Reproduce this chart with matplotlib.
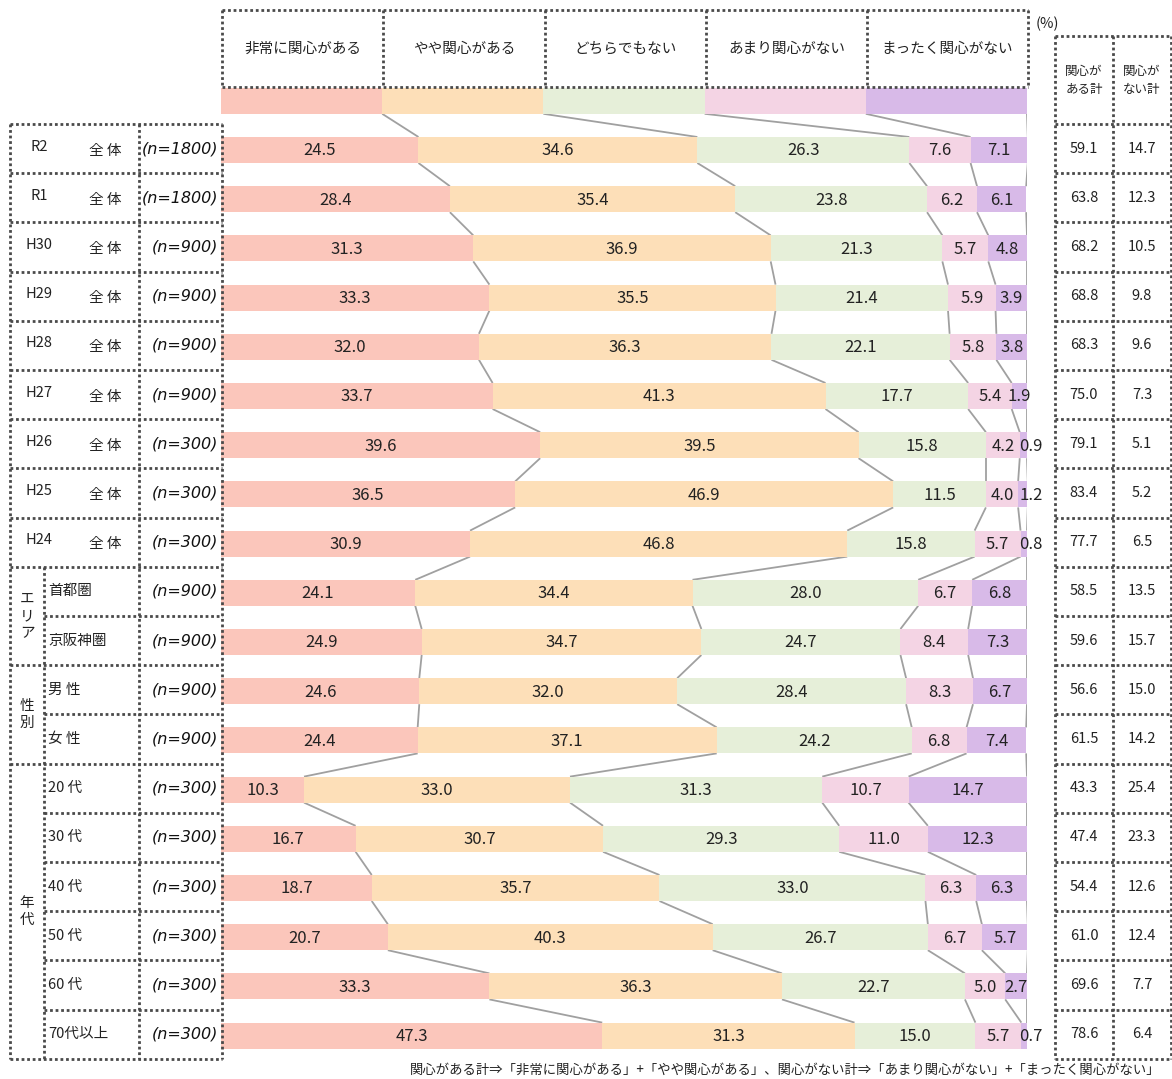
import matplotlib
matplotlib.use("Agg")
import matplotlib.pyplot as plt
import numpy as np

plt.rcParams['font.family'] = ['Noto Sans CJK JP', 'DejaVu Sans']

categories = ["非常に関心がある", "やや関心がある", "どちらでもない", "あまり関心がない", "まったく関心がない"]
colors = ["#FBC6BB", "#FDDFB8", "#E6EFD9", "#F4D4E4", "#D8BAE8"]

row_codes = ["R2", "R1", "H30", "H29", "H28", "H27", "H26", "H25", "H24",
             "首都圏", "京阪神圏", "男 性", "女 性",
             "20 代", "30 代", "40 代", "50 代", "60 代", "70代以上"]
row_n = ["(n=1800)", "(n=1800)", "(n=900)", "(n=900)", "(n=900)", "(n=900)", "(n=300)", "(n=300)", "(n=300)",
         "(n=900)", "(n=900)", "(n=900)", "(n=900)",
         "(n=300)", "(n=300)", "(n=300)", "(n=300)", "(n=300)", "(n=300)"]
groups = [("エ\nリ\nア", 9, 10), ("性\n別", 11, 12), ("年\n代", 13, 18)]

v_very = [24.5, 28.4, 31.3, 33.3, 32.0, 33.7, 39.6, 36.5, 30.9, 24.1, 24.9, 24.6, 24.4, 10.3, 16.7, 18.7, 20.7, 33.3, 47.3]
v_some = [34.6, 35.4, 36.9, 35.5, 36.3, 41.3, 39.5, 46.9, 46.8, 34.4, 34.7, 32.0, 37.1, 33.0, 30.7, 35.7, 40.3, 36.3, 31.3]
v_neith = [26.3, 23.8, 21.3, 21.4, 22.1, 17.7, 15.8, 11.5, 15.8, 28.0, 24.7, 28.4, 24.2, 31.3, 29.3, 33.0, 26.7, 22.7, 15.0]
v_little = [7.6, 6.2, 5.7, 5.9, 5.8, 5.4, 4.2, 4.0, 5.7, 6.7, 8.4, 8.3, 6.8, 10.7, 11.0, 6.3, 6.7, 5.0, 5.7]
v_none = [7.1, 6.1, 4.8, 3.9, 3.8, 1.9, 0.9, 1.2, 0.8, 6.8, 7.3, 6.7, 7.4, 14.7, 12.3, 6.3, 5.7, 2.7, 0.7]
tot_int = [59.1, 63.8, 68.2, 68.8, 68.3, 75.0, 79.1, 83.4, 77.7, 58.5, 59.6, 56.6, 61.5, 43.3, 47.4, 54.4, 61.0, 69.6, 78.6]
tot_not = [14.7, 12.3, 10.5, 9.8, 9.6, 7.3, 5.1, 5.2, 6.5, 13.5, 15.7, 15.0, 14.2, 25.4, 23.3, 12.6, 12.4, 7.7, 6.4]

W, H = 1172, 1079
fig = plt.figure(figsize=(W / 100, H / 100), dpi=100)

# geometry (pixels)
x0, x1 = 221, 1027
y_first, pitch = 150, 49.2
bar_h = 26 / pitch
n = len(row_codes)

ax = fig.add_axes([x0 / W, 0, (x1 - x0) / W, 1])
ax.set_xlim(0, 100)
ax.set_ylim((H - y_first) / pitch, -y_first / pitch)
ax.axis('off')

data = np.array([v_very, v_some, v_neith, v_little, v_none]).T
ys = np.arange(n)

# legend strip
ax.barh([-1] * 5, [20] * 5, left=[0, 20, 40, 60, 80], height=bar_h, color=colors, linewidth=0)

left = np.zeros(n)
for k in range(5):
    ax.barh(ys, data[:, k], left=left, height=bar_h, color=colors[k], linewidth=0)
    for i in range(n):
        v = data[i, k]
        xt = left[i] + v / 2 if v >= 1.5 else left[i] + v + 0.45
        ax.text(xt, ys[i] + 0.02, f"{v:.1f}", ha='center', va='center',
                fontsize=12, color='#222222')
    left = left + data[:, k]

# connector lines
cum = np.cumsum(data, axis=1)
cum_all = np.vstack([np.array([20, 40, 60, 80, 100]), cum])
y_all = np.concatenate([[-1], ys])
for i in range(len(y_all) - 1):
    for k in range(5):
        ax.plot([cum_all[i, k], cum_all[i + 1, k]],
                [y_all[i] + bar_h / 2, y_all[i + 1] - bar_h / 2],
                color='#A0A0A0', lw=1.3, solid_capstyle='butt', zorder=0)

# overlay axes in pixel coordinates
ov = fig.add_axes([0, 0, 1, 1])
ov.set_xlim(0, W)
ov.set_ylim(H, 0)
ov.axis('off')
ov.patch.set_alpha(0)

bstyle = dict(color='#4a4a4a', lw=2.0, linestyle=(0, (1, 1)), solid_capstyle='butt')


def hline(x_a, x_b, y):
    ov.plot([x_a, x_b], [y, y], **bstyle)


def vline(x, y_a, y_b):
    ov.plot([x, x], [y_a, y_b], **bstyle)


# header boxes
hx = [222, 383, 545, 706, 867, 1028]
hy0, hy1 = 10, 87
hline(hx[0], hx[-1], hy0)
hline(hx[0], hx[-1], hy1)
for xx in hx:
    vline(xx, hy0, hy1)
for k in range(5):
    ov.text((hx[k] + hx[k + 1]) / 2, 49, categories[k], ha='center', va='center', fontsize=10.5, color='#222222')

# left table
ty0 = 124
bounds = [ty0 + pitch * i for i in range(n + 1)]
lx0, lx_g, lx_n, lx1 = 10, 44, 139, 222
vline(lx0, bounds[0], bounds[-1])
vline(lx_n, bounds[0], bounds[-1])
vline(lx1, bounds[0], bounds[-1])
vline(lx_g, bounds[9], bounds[-1])
group_starts = {9, 11, 13}
for i, yb in enumerate(bounds):
    if i <= 9 or i in group_starts or i == n:
        hline(lx0, lx1, yb)
    else:
        hline(lx_g, lx1, yb)

for i in range(n):
    yc = (bounds[i] + bounds[i + 1]) / 2
    if i < 9:
        ov.text(39, yc - 2, row_codes[i], ha='center', va='center', fontsize=10.5, color='#222222')
        ov.text(105, yc + 2, "全 体", ha='center', va='center', fontsize=10.5, color='#222222')
    else:
        ov.text(48, yc, row_codes[i], ha='left', va='center', fontsize=10.5, color='#222222')
    ov.text(218, yc, row_n[i], ha='right', va='center', fontsize=11.5, style='italic',
            family='DejaVu Sans', color='#111111')

for label, a, b in groups:
    yc = (bounds[a] + bounds[b + 1]) / 2
    ov.text(27, yc, label, ha='center', va='center', fontsize=10.5, color='#222222', linespacing=1.25)

# right table
rx = [1055, 1113, 1171]
ry0 = 36
vline(rx[0], ry0, bounds[-1])
vline(rx[1], ry0, bounds[-1])
vline(rx[2], ry0, bounds[-1])
hline(rx[0], rx[2], ry0)
for yb in bounds:
    hline(rx[0], rx[2], yb)
ov.text((rx[0] + rx[1]) / 2, 80, "関心が\nある計", ha='center', va='center', fontsize=9, color='#222222', linespacing=1.5)
ov.text((rx[1] + rx[2]) / 2, 80, "関心が\nない計", ha='center', va='center', fontsize=9, color='#222222', linespacing=1.5)
for i in range(n):
    yc = (bounds[i] + bounds[i + 1]) / 2
    ov.text((rx[0] + rx[1]) / 2, yc, f"{tot_int[i]:.1f}", ha='center', va='center', fontsize=10.5, color='#222222')
    ov.text((rx[1] + rx[2]) / 2, yc, f"{tot_not[i]:.1f}", ha='center', va='center', fontsize=10.5, color='#222222')

ov.text(1047, 24, "(%)", ha='center', va='center', fontsize=10.5, color='#222222')

ov.text(1160, 1070, "関心がある計⇒「非常に関心がある」+「やや関心がある」、関心がない計⇒「あまり関心がない」+「まったく関心がない」",
        ha='right', va='center', fontsize=9.6, color='#222222')

fig.savefig("out.png", dpi=100)
